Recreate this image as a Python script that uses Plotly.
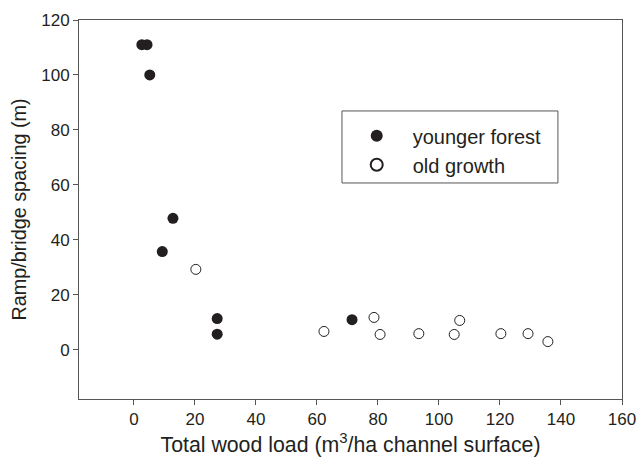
import plotly.graph_objects as go

younger_x = [2.6, 4.3, 5.2, 12.8, 9.3, 27.3, 27.3, 71.5]
younger_y = [111, 111, 100, 47.8, 35.7, 11.3, 5.6, 10.9]
old_x = [20.3, 62.3, 78.7, 80.7, 93.4, 105.0, 106.8, 120.3, 129.2, 135.7]
old_y = [29.2, 6.6, 11.7, 5.5, 5.8, 5.5, 10.6, 5.8, 5.8, 2.9]
x_ticks = [0, 20, 40, 60, 80, 100, 120, 140, 160]
y_ticks = [0, 20, 40, 60, 80, 100, 120]

ink = "#231f20"
axis_col = "#555555"
font = "Liberation Sans, Arial, sans-serif"

fig = go.Figure()
fig.add_trace(go.Scatter(x=younger_x, y=younger_y, mode="markers", name="younger forest",
                         marker=dict(size=11, color=ink, line=dict(width=0))))
fig.add_trace(go.Scatter(x=old_x, y=old_y, mode="markers", name="old growth",
                         marker=dict(size=10, color="white", line=dict(width=1, color=ink))))

# legend frame
fig.add_shape(type="rect", xref="paper", yref="paper", x0=0.4843, x1=0.882, y0=0.570, y1=0.760,
              line=dict(color=axis_col, width=1), fillcolor="rgba(0,0,0,0)")

fig.update_layout(
    width=638, height=457,
    margin=dict(l=79, r=16, t=20, b=58, autoexpand=False),
    paper_bgcolor="white", plot_bgcolor="white",
    font=dict(family=font, size=17, color=ink),
    showlegend=True,
    legend=dict(x=0.482, y=0.746, xanchor="left", yanchor="top", bgcolor="rgba(0,0,0,0)",
                borderwidth=0, font=dict(size=20, color=ink), itemsizing="constant",
                itemwidth=62),
    xaxis=dict(range=[-18, 160], tickvals=x_ticks, ticks="outside", ticklen=5, tickcolor=axis_col,
               showline=True, linecolor=axis_col, linewidth=1, mirror=True, showgrid=False,
               zeroline=False, automargin=False,
               title=dict(text="Total wood load (m<sup>3</sup>/ha channel surface)", standoff=11,
                          font=dict(size=21.3))),
    yaxis=dict(range=[-18, 120], tickvals=y_ticks, ticks="outside", ticklen=5, tickcolor=axis_col,
               showline=True, linecolor=axis_col, linewidth=1, mirror=True, showgrid=False,
               zeroline=False, automargin=False,
               title=dict(text="Ramp/bridge spacing (m)", standoff=9, font=dict(size=19.8))),
)

fig.write_html("out.html")
